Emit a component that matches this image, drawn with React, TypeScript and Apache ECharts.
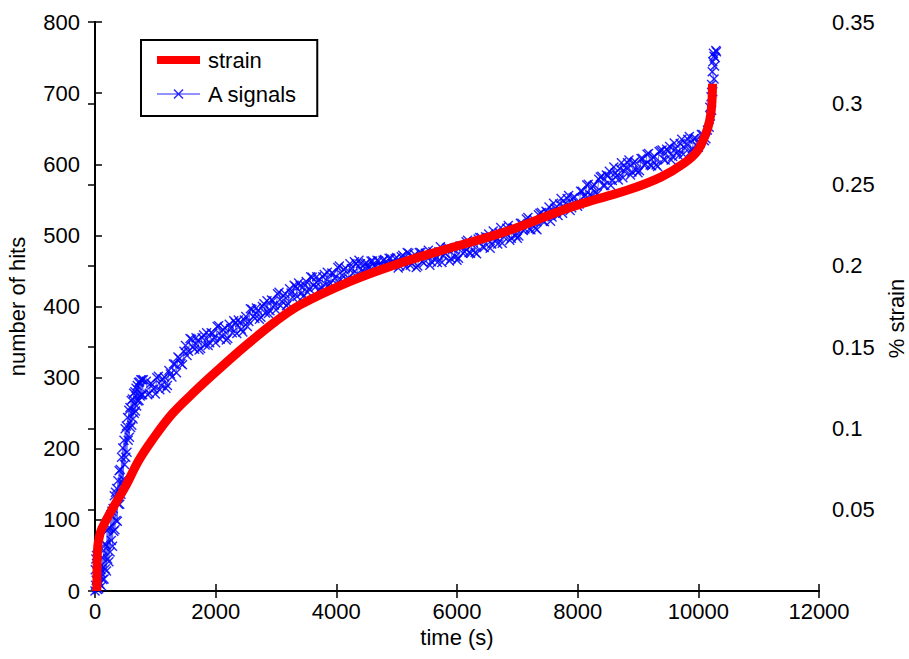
import React, { useEffect, useRef } from "react";
import * as echarts from "echarts";

const xTicks = { min: 0, max: 12000, interval: 2000 };
const hitsAxis = { min: 0, max: 800, interval: 100 };
const strainAxis = { min: 0, max: 0.35, interval: 0.05 };

const seriesNames = ["strain", "A signals"];
const axisNames = { x: "time (s)", left: "number of hits", right: "% strain" };

// [time (s), % strain]
const strainData: [number, number][] = [
  [30, 0], [35, 0.015], [45, 0.027], [70, 0.033], [110, 0.038], [280, 0.05],
  [500, 0.064], [720, 0.08], [950, 0.093], [1280, 0.109], [1660, 0.123],
  [2040, 0.136], [2500, 0.151], [3000, 0.166], [3400, 0.176], [4200, 0.19],
  [5000, 0.201], [5700, 0.209], [6800, 0.221], [7800, 0.235], [8270, 0.2405],
  [8830, 0.2466], [9380, 0.2546], [9760, 0.263], [9990, 0.271], [10150, 0.284],
  [10215, 0.296], [10235, 0.312],
];

// A signals, [time (s), number of hits] — initial steep rise
const aSignalsEarly: [number, number][] = [
  [0, 0], [5, 30], [10, 8], [15, 45], [20, 15], [25, 50], [30, 5], [35, 38], [40, 2],
  [45, 28], [50, 12], [55, 42], [60, 3], [70, 33], [80, 10], [90, 26],
  [100, 30], [110, 7], [120, 47], [130, 16], [140, 57], [150, 17], [160, 66], [170, 31],
  [180, 65], [190, 28], [200, 85], [210, 45], [220, 87], [230, 41], [240, 89], [250, 55],
  [260, 107], [270, 71], [280, 112], [290, 63], [300, 116], [310, 84], [320, 134], [330, 86],
  [340, 139], [350, 99], [360, 144], [370, 98], [380, 155], [390, 122], [400, 169], [410, 122],
  [420, 171], [430, 136], [440, 188], [450, 153], [460, 201], [470, 157], [480, 212], [490, 178],
  [500, 228], [510, 188], [520, 232], [530, 195], [540, 244], [550, 212], [560, 254], [570, 216],
  [580, 258], [590, 230], [600, 268], [610, 233], [620, 270], [630, 242], [640, 278], [650, 250],
  [660, 280], [670, 253], [680, 285], [690, 260], [700, 289], [710, 267], [720, 293], [730, 268],
  [740, 294], [750, 274], [760, 297], [770, 276], [780, 297], [790, 276], [800, 297],
];

// A signals, samples every 50 s
const aSignalsMain: [number, number][] = [
  [850, 295], [900, 278], [950, 290], [1000, 277], [1050, 302], [1100, 289], [1150, 301],
  [1200, 289], [1250, 305], [1300, 319], [1350, 307], [1400, 327], [1450, 318], [1500, 345],
  [1550, 337], [1600, 354], [1650, 340], [1700, 352], [1750, 341], [1800, 360], [1850, 363],
  [1900, 349], [1950, 362], [2000, 349], [2050, 373], [2100, 359], [2150, 370], [2200, 355],
  [2250, 369], [2300, 380], [2350, 362], [2400, 377], [2450, 364], [2500, 386], [2550, 379],
  [2600, 396], [2650, 383], [2700, 394], [2750, 385], [2800, 404], [2850, 408], [2900, 394],
  [2950, 408], [3000, 395], [3050, 420], [3100, 407], [3150, 418], [3200, 404], [3250, 419],
  [3300, 430], [3350, 414], [3400, 429], [3450, 414], [3500, 435], [3550, 425], [3600, 441],
  [3650, 427], [3700, 437], [3750, 427], [3800, 445], [3850, 448], [3900, 433], [3950, 446],
  [4000, 432], [4050, 457], [4100, 444], [4150, 454], [4200, 440], [4250, 453], [4300, 463],
  [4350, 446], [4400, 460], [4450, 450], [4500, 461], [4550, 455], [4600, 464], [4650, 456],
  [4700, 464], [4750, 456], [4800, 466], [4850, 459], [4900, 468], [4950, 459], [5000, 469],
  [5050, 457], [5100, 472], [5150, 456], [5200, 475], [5250, 460], [5300, 473], [5350, 457],
  [5400, 476], [5450, 461], [5500, 472], [5550, 458], [5600, 477], [5650, 467], [5700, 477],
  [5750, 462], [5800, 475], [5850, 483], [5900, 467], [5950, 481], [6000, 465], [6050, 485],
  [6100, 475], [6150, 491], [6200, 476], [6250, 487], [6300, 476], [6350, 495], [6400, 497],
  [6450, 483], [6500, 495], [6550, 482], [6600, 506], [6650, 493], [6700, 504], [6750, 489],
  [6800, 503], [6850, 514], [6900, 496], [6950, 511], [7000, 496], [7050, 517], [7100, 507],
  [7150, 523], [7200, 509], [7250, 520], [7300, 510], [7350, 529], [7400, 532], [7450, 519],
  [7500, 532], [7550, 520], [7600, 545], [7650, 533], [7700, 544], [7750, 531], [7800, 545],
  [7850, 556], [7900, 539], [7950, 554], [8000, 541], [8050, 562], [8100, 555], [8150, 571],
  [8200, 557], [8250, 569], [8300, 560], [8350, 579], [8400, 583], [8450, 570], [8500, 584],
  [8550, 570], [8600, 596], [8650, 584], [8700, 594], [8750, 581], [8800, 595], [8850, 606],
  [8900, 589], [8950, 604], [9000, 588], [9050, 608], [9100, 599], [9150, 614], [9200, 599],
  [9250, 610], [9300, 599], [9350, 618], [9400, 620], [9450, 606], [9500, 619], [9550, 606],
  [9600, 630], [9650, 617], [9700, 629], [9750, 614], [9800, 628], [9850, 639], [9900, 622],
  [9950, 637], [10000, 624], [10050, 642], [10100, 633], [10150, 648],
];

// A signals, samples in between (offset 25 s)
const aSignalsMid: [number, number][] = [
  [875, 276], [925, 292], [975, 284], [1025, 300], [1075, 283], [1125, 298], [1175, 285],
  [1225, 310], [1275, 301], [1325, 319], [1375, 329], [1425, 320], [1475, 337], [1525, 331],
  [1575, 355], [1625, 343], [1675, 356], [1725, 339], [1775, 356], [1825, 346], [1875, 345],
  [1925, 363], [1975, 356], [2025, 372], [2075, 354], [2125, 367], [2175, 353], [2225, 375],
  [2275, 363], [2325, 377], [2375, 381], [2425, 368], [2475, 381], [2525, 372], [2575, 397],
  [2625, 386], [2675, 398], [2725, 382], [2775, 400], [2825, 391], [2875, 390], [2925, 409],
  [2975, 402], [3025, 418], [3075, 401], [3125, 415], [3175, 401], [3225, 425], [3275, 413],
  [3325, 428], [3375, 433], [3425, 419], [3475, 430], [3525, 420], [3575, 442], [3625, 430],
  [3675, 442], [3725, 424], [3775, 442], [3825, 431], [3875, 430], [3925, 447], [3975, 440],
  [4025, 455], [4075, 438], [4125, 452], [4175, 437], [4225, 460], [4275, 447], [4325, 460],
  [4375, 465], [4425, 450], [4475, 460], [4525, 454], [4575, 464], [4625, 457], [4675, 465],
  [4725, 457], [4775, 465], [4825, 458], [4875, 468], [4925, 460], [4975, 467], [5025, 454],
  [5075, 470], [5125, 462], [5175, 476], [5225, 458], [5275, 470], [5325, 455], [5375, 476],
  [5425, 463], [5475, 475], [5525, 479], [5575, 463], [5625, 473], [5675, 462], [5725, 484],
  [5775, 471], [5825, 482], [5875, 464], [5925, 481], [5975, 470], [6025, 468], [6075, 485],
  [6125, 477], [6175, 493], [6225, 475], [6275, 489], [6325, 474], [6375, 497], [6425, 484],
  [6475, 498], [6525, 502], [6575, 488], [6625, 498], [6675, 488], [6725, 511], [6775, 498],
  [6825, 510], [6875, 493], [6925, 510], [6975, 500], [7025, 499], [7075, 517], [7125, 509],
  [7175, 525], [7225, 508], [7275, 522], [7325, 508], [7375, 531], [7425, 520], [7475, 534],
  [7525, 540], [7575, 526], [7625, 538], [7675, 528], [7725, 552], [7775, 540], [7825, 552],
  [7875, 535], [7925, 553], [7975, 544], [8025, 544], [8075, 562], [8125, 556], [8175, 572],
  [8225, 556], [8275, 571], [8325, 558], [8375, 582], [8425, 570], [8475, 585], [8525, 590],
  [8575, 577], [8625, 588], [8675, 578], [8725, 602], [8775, 590], [8825, 602], [8875, 585],
  [8925, 602], [8975, 592], [9025, 591], [9075, 608], [9125, 600], [9175, 615], [9225, 598],
  [9275, 611], [9325, 597], [9375, 619], [9425, 607], [9475, 621], [9525, 625], [9575, 611],
  [9625, 622], [9675, 612], [9725, 635], [9775, 623], [9825, 635], [9875, 618], [9925, 636],
  [9975, 626], [10025, 629], [10075, 642], [10125, 636],
];

// A signals, final burst
const aSignalsSpike: [number, number][] = [
  [10180, 652], [10200, 668], [10190, 680], [10220, 676], [10210, 695], [10240, 702],
  [10220, 712], [10260, 720], [10230, 730], [10270, 738], [10240, 744], [10280, 750],
  [10250, 756], [10300, 758], [10260, 752], [10290, 760],
];

const aSignals: [number, number][] = [
  ...aSignalsEarly,
  ...[...aSignalsMain, ...aSignalsMid].sort((a, b) => a[0] - b[0]),
  ...aSignalsSpike,
];

const FONT = "Liberation Sans, Arial, sans-serif";
const FS = 22;
const X_SYMBOL = "path://M0,1L1,0L5,4L9,0L10,1L6,5L10,9L9,10L5,6L1,10L0,9L4,5Z";
const LEGEND_X_ICON =
  "path://M0,4.5H43V5.5H0Z M16.5,1L17.5,0L21.5,4L25.5,0L26.5,1L22.5,5L26.5,9L25.5,10L21.5,6L17.5,10L16.5,9L20.5,5Z";
const LEGEND_BAR_ICON = "path://M0,1H43V9H0Z";

export default function App() {
  const ref = useRef<HTMLDivElement>(null);
  useEffect(() => {
    if (!ref.current) return;
    const chart = echarts.init(ref.current, undefined, { renderer: "svg" });
    const axisLine = { show: true, lineStyle: { color: "#000", width: 2 } };
    const tick = { show: true, inside: true, length: 7, lineStyle: { color: "#000", width: 1.5 } };
    const label = { color: "#000", fontSize: FS, fontFamily: FONT };
    const nameStyle = { color: "#000", fontSize: FS, fontFamily: FONT };
    chart.setOption({
      animation: false,
      backgroundColor: "#fff",
      grid: { left: 95, right: 90, top: 22, bottom: 68, containLabel: false, outerBoundsMode: "none" },
      legend: {
        orient: "vertical",
        left: 141,
        top: 40,
        padding: [9, 20, 11, 16],
        borderColor: "#000",
        borderWidth: 2,
        backgroundColor: "#fff",
        itemWidth: 43,
        itemHeight: 10,
        itemGap: 12,
        symbolKeepAspect: true,
        textStyle: { color: "#000", fontSize: FS, fontFamily: FONT, lineHeight: 22, padding: [0, 0, 0, 3] },
        data: [
          { name: seriesNames[0], icon: LEGEND_BAR_ICON },
          { name: seriesNames[1], icon: LEGEND_X_ICON },
        ],
      },
      xAxis: [
        {
          type: "value",
          min: xTicks.min,
          max: xTicks.max,
          interval: xTicks.interval,
          position: "bottom",
          name: axisNames.x,
          nameLocation: "middle",
          nameGap: 31,
          nameTextStyle: nameStyle,
          axisLine,
          axisTick: tick,
          axisLabel: { ...label, margin: 9, formatter: (v: number) => String(v) },
          splitLine: { show: false },
        },
        {
          type: "value",
          min: xTicks.min,
          max: xTicks.max,
          interval: xTicks.interval,
          position: "top",
          axisLine,
          axisTick: tick,
          axisLabel: { show: false },
          splitLine: { show: false },
        },
      ],
      yAxis: [
        {
          type: "value",
          min: hitsAxis.min,
          max: hitsAxis.max,
          interval: hitsAxis.interval,
          position: "left",
          name: axisNames.left,
          nameLocation: "middle",
          nameRotate: 90,
          nameGap: 67,
          nameTextStyle: nameStyle,
          axisLine,
          axisTick: tick,
          axisLabel: { ...label, margin: 15 },
          splitLine: { show: false },
        },
        {
          type: "value",
          min: strainAxis.min,
          max: strainAxis.max,
          interval: strainAxis.interval,
          position: "right",
          name: axisNames.right,
          nameLocation: "middle",
          nameRotate: 90,
          nameGap: 66,
          nameTextStyle: { ...nameStyle, padding: [0, 24, 0, 0] },
          axisLine,
          axisTick: tick,
          axisLabel: {
            ...label,
            margin: 13,
            formatter: (v: number) => (v === 0 ? "" : String(+v.toFixed(2))),
          },
          splitLine: { show: false },
        },
      ],
      series: [
        {
          name: seriesNames[1],
          type: "line",
          xAxisIndex: 0,
          yAxisIndex: 0,
          data: aSignals,
          color: "rgba(0,0,255,0.85)",
          symbol: X_SYMBOL,
          symbolSize: 10,
          showSymbol: true,
          lineStyle: { color: "#6666ff", width: 1 },
          itemStyle: { color: "rgba(0,0,255,0.85)" },
          z: 2,
        },
        {
          name: seriesNames[0],
          type: "line",
          xAxisIndex: 0,
          yAxisIndex: 1,
          data: strainData,
          color: "#ff0000",
          smooth: 0.35,
          showSymbol: false,
          symbol: "none",
          lineStyle: { color: "#ff0000", width: 9 },
          z: 3,
        },
      ],
    });
    return () => chart.dispose();
  }, []);
  return (
    <div
      ref={ref}
      style={{ position: "fixed", left: 0, top: 0, width: 909, height: 659, background: "#fff" }}
    />
  );
}
